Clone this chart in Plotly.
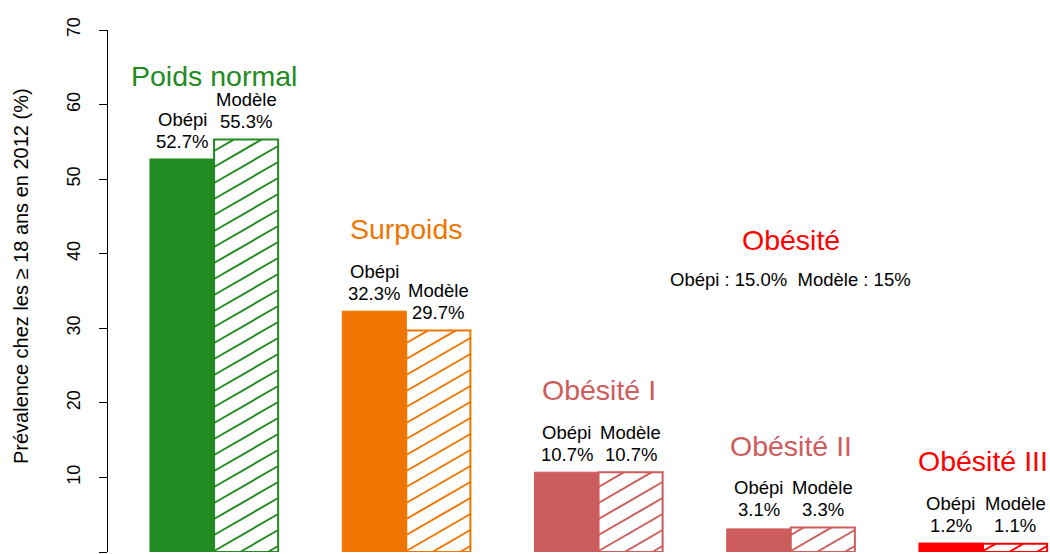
import math
import plotly.graph_objects as go

# ---- data ----
categories = ["Poids normal", "Surpoids", "Obésité I", "Obésité II", "Obésité III"]
obepi = [52.7, 32.3, 10.7, 3.1, 1.2]
modele = [55.3, 29.7, 10.7, 3.3, 1.1]
colors = ["#228B22", "#EE7600", "#CD5C5C", "#CD5C5C", "#FF0000"]
obesite_total_obepi = "15.0"
obesite_total_modele = "15"
y_ticks = [0, 10, 20, 30, 40, 50, 60, 70]
y_title = "Prévalence chez les ≥ 18 ans en 2012 (%)"

# ---- layout geometry (body margin removed via post_script) ----
OFF = 0
W, H = 1050, 554
ML, MR, MT, MB = 108, 0, 30, 2
XR = [0.345, 15.045]
YR = [0, 70]
PW, PH = W - ML - MR, H - MT - MB
xpx = PW / (XR[1] - XR[0])
ypx = PH / (YR[1] - YR[0])

FONT = "Liberation Sans, Arial, sans-serif"

x_obepi = [3 * i + 1.5 for i in range(len(categories))]
x_modele = [3 * i + 2.5 for i in range(len(categories))]
x_group = [3 * i + 2 for i in range(len(categories))]

fig = go.Figure()

# solid bars (Obépi)
fig.add_trace(go.Bar(x=x_obepi, y=obepi, width=1,
                     marker=dict(color=colors, line=dict(color=colors, width=1)),
                     showlegend=False, hoverinfo="skip"))
# hatched bars (Modèle) - white fill with colored border
fig.add_trace(go.Bar(x=x_modele, y=modele, width=1,
                     marker=dict(color="white", line=dict(color=colors, width=2)),
                     showlegend=False, hoverinfo="skip"))


def hatch(xc, h, color):
    x0 = xc - 0.5
    Wp = 1.0 * xpx
    Hp = h * ypx
    s = math.tan(math.radians(30))
    step = 16.0
    xs, ys = [], []
    c = -s * Wp + 6
    while c < Hp:
        u_lo = max(0.0, -c / s)
        u_hi = min(Wp, (Hp - c) / s)
        if u_hi > u_lo:
            xs += [x0 + u_lo / xpx, x0 + u_hi / xpx, None]
            ys += [(s * u_lo + c) / ypx, (s * u_hi + c) / ypx, None]
        c += step
    return go.Scatter(x=xs, y=ys, mode="lines", line=dict(color=color, width=2),
                      showlegend=False, hoverinfo="skip", cliponaxis=True)


for xc, h, col in zip(x_modele, modele, colors):
    fig.add_trace(hatch(xc, h, col))

ann = []
label_font = dict(family=FONT, size=18.5, color="black")
L2 = 18   # px from bar top to centre of value line
L1 = 40   # px from bar top to centre of name line


def two_line(x, y, name, val):
    return [
        dict(x=x, y=y, xref="x", yref="y", text=name, showarrow=False,
             yanchor="middle", yshift=L1, font=label_font),
        dict(x=x, y=y, xref="x", yref="y", text=val, showarrow=False,
             yanchor="middle", yshift=L2, font=label_font),
    ]


for i in range(len(categories)):
    a, b = obepi[i], modele[i]
    if abs(a - b) < 1:
        ya = yb = max(a, b)
    else:
        ya, yb = a, b
    ann += two_line(x_obepi[i], ya, "Obépi", f"{a:.1f}%")
    ann += two_line(x_modele[i], yb, "Modèle", f"{b:.1f}%")

# group titles (offset above the bars)
title_offsets = [8.5, 11.0, 11.0, 10.9, 11.0]
for i, cat in enumerate(categories):
    ann.append(dict(x=x_group[i], y=max(obepi[i], modele[i]) + title_offsets[i], xref="x", yref="y",
                    text=cat, showarrow=False, yanchor="middle",
                    font=dict(family=FONT, size=28.5, color=colors[i])))

# Obésité summary
ann.append(dict(x=x_group[3], y=41.8, xref="x", yref="y", text="Obésité", showarrow=False,
                yanchor="middle", font=dict(family=FONT, size=28.5, color="#FF0000")))
ann.append(dict(x=x_group[3], y=36.5, xref="x", yref="y",
                text=f"Obépi : {obesite_total_obepi}%  Modèle : {obesite_total_modele}%",
                showarrow=False, yanchor="middle", font=label_font))

# y axis title
ann.append(dict(x=(21 - OFF - ML) / PW, y=(H - MB - (276 - OFF)) / PH, xref="paper", yref="paper",
                text=y_title, textangle=-90, showarrow=False, xanchor="center", yanchor="middle",
                font=dict(family=FONT, size=20, color="black")))

fig.update_layout(
    width=W, height=H,
    margin=dict(l=ML, r=MR, t=MT, b=MB, pad=0, autoexpand=False),
    paper_bgcolor="white", plot_bgcolor="white",
    barmode="overlay",
    annotations=ann,
    xaxis=dict(range=XR, visible=False, showgrid=False, zeroline=False, automargin=False),
    yaxis=dict(range=YR, tickvals=y_ticks, ticktext=[str(t) for t in y_ticks],
               showline=True, linecolor="black", linewidth=1,
               ticks="outside", ticklen=8, tickcolor="black", tickwidth=1,
               tickangle=-90, ticklabelstandoff=12, automargin=False,
               tickfont=dict(family=FONT, size=18, color="black"),
               showgrid=False, zeroline=False),
)

fig.write_html(
    "out.html",
    config={"displayModeBar": False, "staticPlot": True},
    post_script="document.body.style.margin='0';document.body.style.overflow='hidden';"
                "document.documentElement.style.overflow='hidden';",
)
